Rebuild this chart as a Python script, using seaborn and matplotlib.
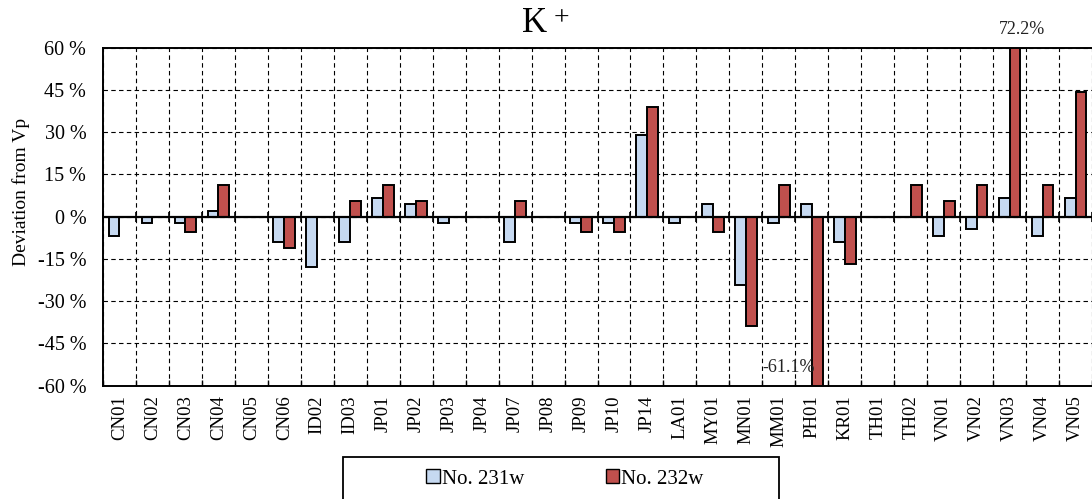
import numpy as np
import pandas as pd
import matplotlib
matplotlib.use("Agg")
import matplotlib.pyplot as plt
from matplotlib.patches import Rectangle, Patch
import seaborn as sns

categories = ["CN01", "CN02", "CN03", "CN04", "CN05", "CN06", "ID02", "ID03", "JP01", "JP02",
              "JP03", "JP04", "JP07", "JP08", "JP09", "JP10", "JP14", "LA01", "MY01", "MN01",
              "MM01", "PH01", "KR01", "TH01", "TH02", "VN01", "VN02", "VN03", "VN04", "VN05"]
nan = np.nan
no231w = [-6.7, -2.2, -2.2, 2.2, nan, -8.9, -17.8, -8.9, 6.7, 4.4,
          -2.2, nan, -8.9, nan, -2.2, -2.2, 28.9, -2.2, 4.4, -24.4,
          -2.2, 4.4, -8.9, nan, nan, -6.7, -4.4, 6.7, -6.7, 6.7]
no232w = [nan, nan, -5.6, 11.1, nan, -11.1, nan, 5.6, 11.1, 5.6,
          nan, nan, 5.6, nan, -5.6, -5.6, 38.9, nan, -5.6, -38.9,
          11.1, -61.1, -16.7, nan, 11.1, 5.6, 11.1, 72.2, 11.1, 44.4]
series_names = ["No. 231w", "No. 232w"]
yticks = [-60, -45, -30, -15, 0, 15, 30, 45, 60]

df = pd.DataFrame({
    "cat": categories * 2,
    "val": no231w + no232w,
    "series": [series_names[0]] * len(categories) + [series_names[1]] * len(categories),
}).dropna()

plt.rcParams["font.family"] = ["Liberation Serif", "DejaVu Serif"]

fig = plt.figure(figsize=(10.92, 4.99), dpi=100)
ax = fig.add_axes([103 / 1092, 1 - 385.7 / 499, 989 / 1092, (385.7 - 47.7) / 499])

palette = {series_names[0]: "#C6D9F1", series_names[1]: "#C0504D"}
sns.barplot(data=df, x="cat", y="val", hue="series", order=categories, hue_order=series_names,
            palette=palette, width=0.66, dodge=True, edgecolor="black", linewidth=1.4,
            saturation=1, ax=ax, legend=False, errorbar=None)

n = len(categories)
ax.set_xlim(-0.5, n - 0.5)
ax.set_ylim(-60, 60)
ax.set_yticks(yticks)
ax.set_yticklabels([f"{v} %" for v in yticks])
ax.set_xticks(range(n))
ax.set_xticklabels(categories, rotation=90, va="top", ha="center")
ax.set_xticks(np.arange(-0.5, n, 1.0), minor=True)
ax.tick_params(axis="x", which="major", length=0, pad=7, labelsize=13.5)
ax.tick_params(axis="x", which="minor", direction="in", length=4, width=1.0, color="black")
ax.tick_params(axis="y", length=0, pad=12, labelsize=14.5)
ax.set_xlabel("")
ax.set_ylabel("Deviation from Vp", fontsize=14)
ax.yaxis.set_label_coords(-0.0738, 0.572)

ax.grid(False)
ax.grid(which="minor", axis="x", color="black", linestyle=(0, (4, 3)), linewidth=0.8)
ax.grid(which="major", axis="y", color="black", linestyle=(0, (4, 3)), linewidth=0.8)
ax.set_axisbelow(True)
ax.axhline(0, color="black", linewidth=1.6, zorder=3)

for s in ["left", "top", "bottom"]:
    ax.spines[s].set_color("black")
    ax.spines[s].set_linewidth(1.4)
ax.spines["right"].set_visible(False)

sec = ax.secondary_xaxis(0.5)
sec.set_xticks(np.arange(-0.5, n, 1.0))
sec.set_xticklabels([])
sec.tick_params(direction="inout", length=7, width=1.2, color="black")
sec.spines["bottom"].set_visible(False)
sec.spines["top"].set_visible(False)

ax.text(27.37, 66.3, "72.2%", ha="center", va="center", fontsize=13, clip_on=False, color="#222")
ax.text(20.3, -53.4, "-61.1%", ha="center", va="center", fontsize=13, clip_on=False, color="#222", zorder=5)

fig.text(535 / 1092, 1 - 24 / 499, "K", ha="center", va="center", fontsize=25)
fig.text(561 / 1092, 1 - 19 / 499, "+", ha="center", va="center", fontsize=20)

fig.patches.append(Rectangle((343 / 1092, -0.01), 436 / 1092, (499 - 457) / 499 + 0.01,
                             transform=fig.transFigure, fill=False, edgecolor="black", linewidth=1.3))
handles = [Patch(facecolor=palette[s], edgecolor="black", linewidth=1.0, label=s) for s in series_names]
fig.legend(handles=handles, loc="center", bbox_to_anchor=(565 / 1092, 1 - 479 / 499), ncol=2,
           frameon=False, fontsize=15, handlelength=0.65, handleheight=0.65, handletextpad=0.1,
           columnspacing=3.9)

fig.savefig("out.png", dpi=100)
